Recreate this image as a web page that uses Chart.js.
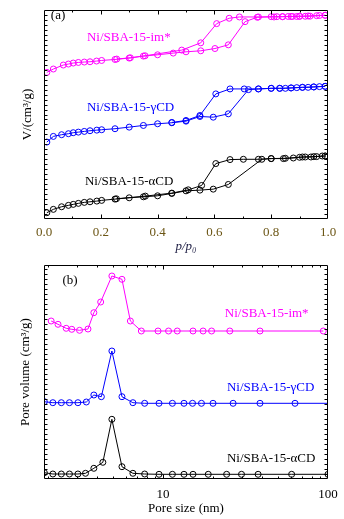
<!DOCTYPE html>
<html>
<head>
<meta charset="utf-8">
<script src="https://cdn.jsdelivr.net/npm/chart.js@4.4.1/dist/chart.umd.min.js"></script>
<style>
  html, body { margin: 0; padding: 0; background: #fff; }
  #wrap { position: relative; width: 344px; height: 519px; }
  .panel { position: absolute; left: 0; width: 344px; }
</style>
</head>
<body>
<div id="wrap">
  <div class="panel" style="top:0;height:255px"><canvas id="isoChart"></canvas></div>
  <div class="panel" style="top:255px;height:264px"><canvas id="poreChart"></canvas></div>
</div>
<script>
// (a) N2 isotherms, offset volume (arbitrary units)
const imAdsP = [0.01, 0.033, 0.068, 0.086, 0.103, 0.121, 0.142, 0.162, 0.185, 0.203, 0.25, 0.30, 0.35, 0.40, 0.455, 0.50, 0.552, 0.602, 0.649, 0.708, 0.751, 0.80, 0.82, 0.84, 0.86, 0.875, 0.89, 0.90, 0.92, 0.937, 0.97, 0.99];
const imAdsV = [147.3, 150.7, 154.7, 155.7, 156.7, 157.3, 157.7, 158, 158.7, 159.3, 160.3, 161.7, 163.7, 165, 166.7, 168, 169, 171.3, 175, 198.3, 202.7, 203.3, 203.3, 203.3, 203.5, 203.5, 203.5, 203.7, 203.7, 203.8, 204.5, 204.7];
const imDesP = [0.99, 0.96, 0.93, 0.90, 0.87, 0.84, 0.81, 0.755, 0.688, 0.652, 0.608, 0.552, 0.485, 0.356, 0.304, 0.256];
const imDesV = [204.7, 204.3, 204, 203.7, 203.5, 203.3, 203, 203, 203, 201.7, 196.3, 177, 169.7, 164, 162, 160.7];

const gAdsP = [0.01, 0.033, 0.062, 0.086, 0.103, 0.121, 0.142, 0.162, 0.186, 0.203, 0.25, 0.30, 0.35, 0.40, 0.45, 0.50, 0.549, 0.596, 0.649, 0.72, 0.755, 0.80, 0.83, 0.85, 0.87, 0.89, 0.91, 0.93, 0.95, 0.97, 0.99];
const gAdsV = [77.3, 83, 84.7, 85.7, 86.7, 87.3, 88, 88.7, 89.3, 89.7, 90.7, 92.3, 94, 95.7, 96.7, 98.3, 103, 102.3, 105.7, 130, 130.7, 131.3, 131.3, 131.3, 131.7, 132, 132.3, 132.3, 132.7, 133, 133.3];
const gDesP = [0.99, 0.95, 0.91, 0.87, 0.83, 0.80, 0.755, 0.705, 0.655, 0.605, 0.549, 0.50, 0.45];
const gDesV = [133.3, 132.7, 132.3, 131.7, 131.3, 131.3, 130.7, 130.7, 130.7, 125.7, 104, 99, 97];

const aAdsP = [0.01, 0.033, 0.062, 0.086, 0.103, 0.121, 0.142, 0.162, 0.186, 0.203, 0.25, 0.30, 0.35, 0.40, 0.45, 0.50, 0.549, 0.596, 0.649, 0.767, 0.80, 0.843, 0.878, 0.90, 0.92, 0.94, 0.96, 0.98, 0.99];
const aAdsV = [6.3, 9.7, 12.3, 13.7, 14.7, 15.7, 16.7, 17.3, 18, 18.7, 20, 21.3, 22.3, 23.3, 25.7, 28.3, 29, 30, 34.7, 60, 60.7, 60.7, 61.3, 62, 62.3, 62.3, 62.7, 63.3, 63.3];
const aDesP = [0.99, 0.95, 0.91, 0.85, 0.80, 0.755, 0.702, 0.655, 0.605, 0.555, 0.508, 0.45, 0.357, 0.255];
const aDesV = [63.3, 62.7, 62.3, 61, 60.7, 60, 60, 59.7, 55.7, 33.7, 29.3, 26, 23, 20.3];

// (b) pore size distribution, offset (arbitrary units)
const imPore = [2.10, 2.31, 2.59, 2.80, 3.12, 3.51, 3.81, 4.19, 4.90, 5.64, 6.34, 7.39, 9.33, 10.8, 12.2, 15.2, 17.5, 19.7, 25.4, 38.7, 93.6];
const imVol = [158, 154.7, 150.7, 149.7, 148.7, 150, 166.3, 177, 203, 199.7, 158, 148, 148, 148, 148, 148, 148, 148, 148, 148, 148];
const gPore = [1.91, 2.15, 2.42, 2.71, 3.05, 3.43, 3.81, 4.23, 4.90, 5.64, 6.57, 7.74, 9.46, 11.4, 13.4, 15.1, 17.1, 20.1, 26.6, 38.7, 63.1, 130];
const gVol = [77.3, 76.3, 76.3, 76.3, 76.3, 77, 84, 82.3, 128, 82.3, 76.3, 75.7, 75.7, 75.7, 75.7, 75.7, 75.7, 75.7, 75.7, 75.7, 75.7, 75.7];
const aPore = [1.91, 2.15, 2.42, 2.71, 3.05, 3.39, 3.81, 4.32, 4.90, 5.64, 6.57, 7.74, 9.46, 11.4, 13.4, 15.2, 18.8, 24.3, 29.9, 37.7, 60.2, 100];
const aVol = [6.3, 5, 5, 5, 5, 5.7, 10.7, 16.7, 59.7, 12.3, 5.7, 5, 4.7, 4.7, 4.7, 4.7, 4.7, 4.7, 4.7, 4.7, 4.7, 4.7];

const pTicks = [0, 0.2, 0.4, 0.6, 0.8, 1.0];
const poreTickLabels = [10, 100];

const MAGENTA = '#ff00ff';
const BLUE = '#0000ff';
const BLACK = '#000000';
const FONT = '"Liberation Serif", "Times New Roman", serif';

const toXY = (xs, ys) => xs.map((x, i) => ({ x: x, y: ys[i] }));

function series(xs, ys, color) {
  return {
    data: toXY(xs, ys),
    showLine: true,
    borderColor: color,
    backgroundColor: 'rgba(0,0,0,0)',
    borderWidth: 1,
    pointRadius: 3,
    pointBorderWidth: 1,
    pointBorderColor: color,
    pointBackgroundColor: 'rgba(0,0,0,0)',
    pointHoverRadius: 3,
  };
}

// box around the plot, inward ticks on all four sides, in-plot labels
function frameTicks(xTicks, yTicks, notes) {
  return {
    id: 'frameTicks',
    afterDatasetsDraw(chart) {
      const { ctx, chartArea: a } = chart;
      const xs = chart.scales.x, ys = chart.scales.y;
      const L = Math.round(a.left) + 0.5, R = Math.round(a.right) - 0.5;
      const T = Math.round(a.top) + 0.5, B = Math.round(a.bottom) - 0.5;
      ctx.save();
      ctx.strokeStyle = '#000';
      ctx.lineWidth = 1;
      ctx.beginPath();
      ctx.rect(L, T, R - L, B - T);
      xTicks.forEach(([v, len]) => {
        const px = Math.round(xs.getPixelForValue(v)) + 0.5;
        ctx.moveTo(px, B); ctx.lineTo(px, B - len);
        ctx.moveTo(px, T); ctx.lineTo(px, T + len);
      });
      yTicks.forEach(([v, len]) => {
        const py = Math.round(ys.getPixelForValue(v)) + 0.5;
        ctx.moveTo(L, py); ctx.lineTo(L + len, py);
        ctx.moveTo(R, py); ctx.lineTo(R - len, py);
      });
      ctx.stroke();
      ctx.font = '13px ' + FONT;
      ctx.textAlign = 'left';
      ctx.textBaseline = 'middle';
      notes.forEach(n => {
        ctx.fillStyle = n.color;
        ctx.fillText(n.text, xs.getPixelForValue(n.x), ys.getPixelForValue(n.y));
      });
      ctx.restore();
    }
  };
}

function yMinor(max, step) {
  const out = [];
  for (let v = step; v < max; v += step) out.push([v, 3]);
  return out;
}

// ---------- (a) ----------
const isoXTicks = [];
for (let i = 1; i < 10; i++) isoXTicks.push([i / 10, i % 2 === 0 ? 4 : 2]);

new Chart(document.getElementById('isoChart'), {
  type: 'scatter',
  data: {
    datasets: [
      series(imAdsP, imAdsV, MAGENTA), series(imDesP, imDesV, MAGENTA),
      series(gAdsP, gAdsV, BLUE), series(gDesP, gDesV, BLUE),
      series(aAdsP, aAdsV, BLACK), series(aDesP, aDesV, BLACK),
    ]
  },
  options: {
    responsive: true,
    maintainAspectRatio: false,
    animation: false,
    devicePixelRatio: 1,
    layout: { padding: { top: 10, right: 16, left: 0, bottom: 0 } },
    plugins: { legend: { display: false }, tooltip: { enabled: false } },
    scales: {
      x: {
        type: 'linear', min: 0, max: 1,
        grid: { display: false }, border: { display: false },
        afterFit: s => { s.height = 36; },
        afterBuildTicks: s => { s.ticks = pTicks.map(v => ({ value: v })); },
        ticks: {
          padding: -2, color: '#6b5514', maxRotation: 0,
          font: { family: FONT, size: 13 },
          callback: v => v.toFixed(1)
        },
        title: {
          display: true, text: 'p/p₀', color: '#1a1a40', padding: { top: 0, bottom: 1 },
          font: { family: FONT, size: 13, style: 'italic' }
        }
      },
      y: {
        type: 'linear', min: 0, max: 210,
        grid: { display: false }, border: { display: false },
        ticks: { display: false },
        afterFit: s => { s.width = 44; },
        title: {
          display: true, text: 'V/(cm³/g)', color: '#000', padding: { top: 20, bottom: 0 },
          font: { family: FONT, size: 13 }
        }
      }
    }
  },
  plugins: [frameTicks(isoXTicks, yMinor(210, 5), [
    { text: '(a)', x: 0.024, y: 204, color: BLACK },
    { text: 'Ni/SBA-15-im*', x: 0.151, y: 182, color: MAGENTA },
    { text: 'Ni/SBA-15-γCD', x: 0.151, y: 112, color: BLUE },
    { text: 'Ni/SBA-15-αCD', x: 0.144, y: 37.3, color: BLACK },
  ])]
});

// ---------- (b) ----------
const poreXTicks = [];
[1, 10].forEach(d => {
  for (let m = 2; m <= 9; m++) poreXTicks.push([m * d, 2]);
});
poreXTicks.push([10, 4]);

new Chart(document.getElementById('poreChart'), {
  type: 'scatter',
  data: {
    datasets: [
      series(imPore, imVol, MAGENTA),
      series(gPore, gVol, BLUE),
      series(aPore, aVol, BLACK),
    ]
  },
  options: {
    responsive: true,
    maintainAspectRatio: false,
    animation: false,
    devicePixelRatio: 1,
    layout: { padding: { top: 10, right: 16, left: 0, bottom: 0 } },
    plugins: { legend: { display: false }, tooltip: { enabled: false } },
    scales: {
      x: {
        type: 'logarithmic', min: 1.9, max: 100,
        grid: { display: false }, border: { display: false },
        afterFit: s => { s.height = 40; },
        afterBuildTicks: s => { s.ticks = poreTickLabels.map(v => ({ value: v })); },
        ticks: {
          padding: 0, color: '#000', maxRotation: 0, autoSkip: false,
          font: { family: FONT, size: 13 },
          callback: v => String(v)
        },
        title: {
          display: true, text: 'Pore size (nm)', color: '#000', padding: { top: 0, bottom: 3 },
          font: { family: FONT, size: 13 }
        }
      },
      y: {
        type: 'linear', min: 0, max: 214,
        grid: { display: false }, border: { display: false },
        ticks: { display: false },
        afterFit: s => { s.width = 44; },
        title: {
          display: true, text: 'Pore volume (cm³/g)', color: '#000', padding: { top: 18, bottom: 0 },
          font: { family: FONT, size: 13 }
        }
      }
    }
  },
  plugins: [frameTicks(poreXTicks, yMinor(214, 5), [
    { text: '(b)', x: 2.46, y: 198.3, color: BLACK },
    { text: 'Ni/SBA-15-im*', x: 23.7, y: 165, color: MAGENTA },
    { text: 'Ni/SBA-15-γCD', x: 24.4, y: 91, color: BLUE },
    { text: 'Ni/SBA-15-αCD', x: 24.4, y: 20, color: BLACK },
  ])]
});
</script>
</body>
</html>
